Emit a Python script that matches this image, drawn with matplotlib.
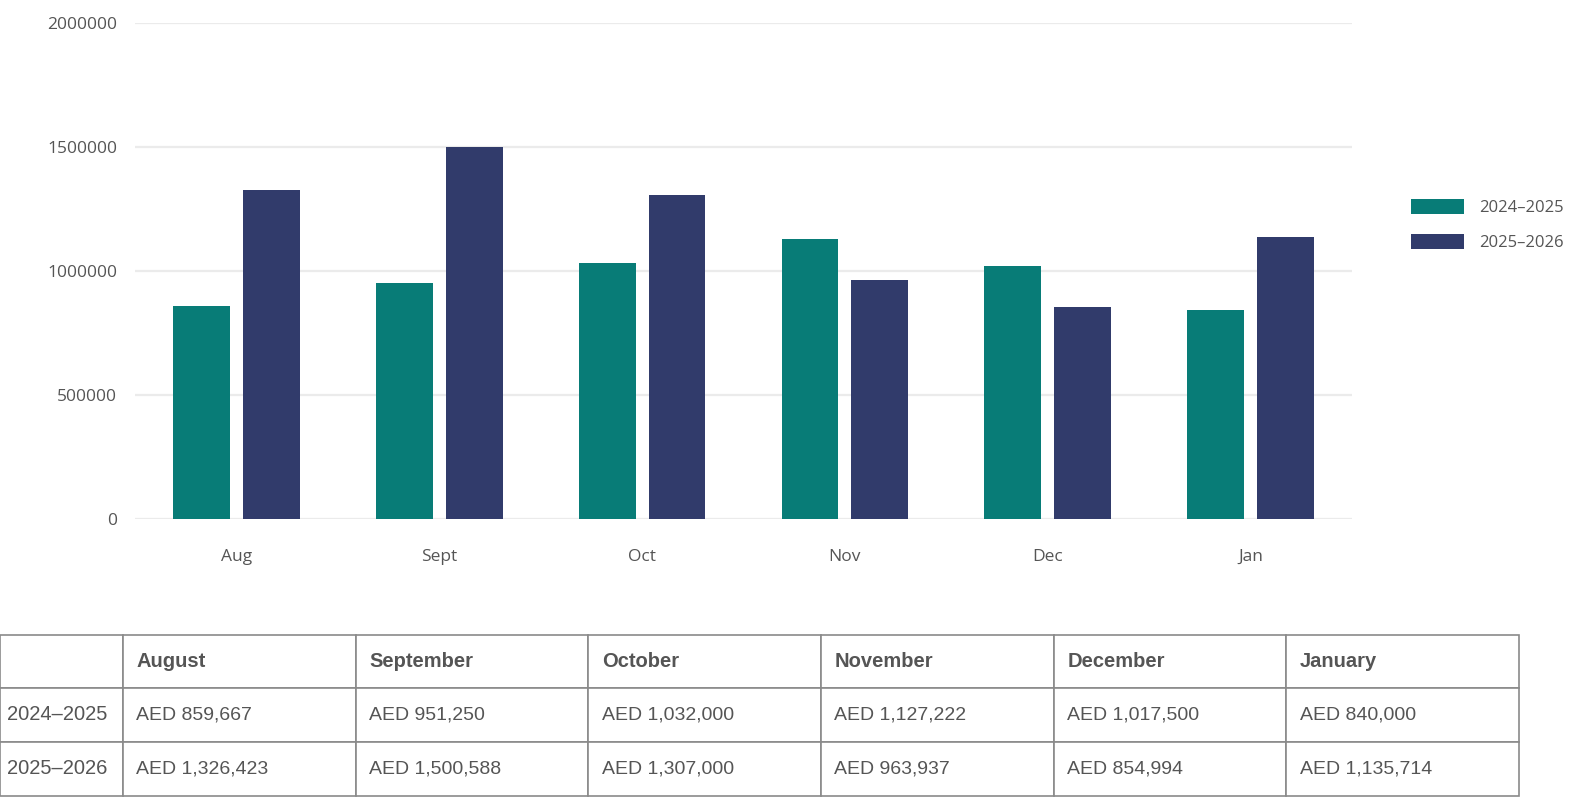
import numpy as np
import matplotlib
matplotlib.use("Agg")
import matplotlib.pyplot as plt
from matplotlib.patches import Patch

# data
months_short = ["Aug", "Sept", "Oct", "Nov", "Dec", "Jan"]
months_long = ["August", "September", "October", "November", "December", "January"]
series_names = ["2024\u20132025", "2025\u20132026"]
values_2024 = [859667, 951250, 1032000, 1127222, 1017500, 840000]
values_2025 = [1326423, 1500588, 1307000, 963937, 854994, 1135714]
y_ticks = [0, 500000, 1000000, 1500000, 2000000]

teal = "#087C77"
navy = "#313B6B"
text_gray = "#555555"
grid_gray = "#EBEBEB"

plt.rcParams["font.family"] = ["Open Sans", "DejaVu Sans"]

fig = plt.figure(figsize=(15.74, 7.97), dpi=100)

# bar chart
ax = fig.add_axes([135 / 1574, 1 - 518.7 / 797, 1217 / 1574, 496 / 797])
x = np.arange(len(months_short))
w = 0.28
off = 0.172
ax.bar(x - off, values_2024, width=w, color=teal, zorder=3)
ax.bar(x + off, values_2025, width=w, color=navy, zorder=3)

ax.set_xlim(-0.5, len(months_short) - 0.5)
ax.set_ylim(0, 2000000)
ax.set_yticks(y_ticks)
ax.set_yticklabels([str(v) for v in y_ticks])
ax.set_xticks(x)
ax.set_xticklabels(months_short)
ax.tick_params(axis="both", length=0, labelsize=12.5, labelcolor=text_gray)
ax.tick_params(axis="y", pad=13)
ax.tick_params(axis="x", pad=22)
ax.grid(axis="y", color=grid_gray, linewidth=1.6, zorder=0)
for s in ax.spines.values():
    s.set_visible(False)

handles = [Patch(facecolor=teal), Patch(facecolor=navy)]
fig.legend(handles, series_names, loc="upper left",
           bbox_to_anchor=(1396 / 1574, 1 - 184 / 797), frameon=False,
           fontsize=12, labelcolor=text_gray, handlelength=3.2,
           handleheight=1.05, labelspacing=1.05, handletextpad=0.9)

# table
tax = fig.add_axes([0, 1.5 / 797, 1519 / 1574, 161 / 797])
tax.axis("off")
cell_text = [[""] + months_long,
             [series_names[0]] + [f"AED {v:,}" for v in values_2024],
             [series_names[1]] + [f"AED {v:,}" for v in values_2025]]
first_w = 123 / 1519
col_widths = [first_w] + [(1 - first_w) / 6] * 6
tbl = tax.table(cellText=cell_text, colWidths=col_widths, cellLoc="left",
                bbox=[0, 0, 1, 1])
tbl.auto_set_font_size(False)
for (r, c), cell in tbl.get_celld().items():
    cell.set_edgecolor("#8A8A8A")
    cell.set_linewidth(1.2)
    cell.PAD = 0.06 if c == 0 else 0.058
    t = cell.get_text()
    t.set_color(text_gray)
    t.set_fontfamily(["Liberation Sans", "DejaVu Sans"])
    if r == 0:
        t.set_fontsize(14.5)
        t.set_fontweight("bold")
    else:
        t.set_fontsize(14.5 if c == 0 else 14)

fig.savefig("out.png", dpi=100)
